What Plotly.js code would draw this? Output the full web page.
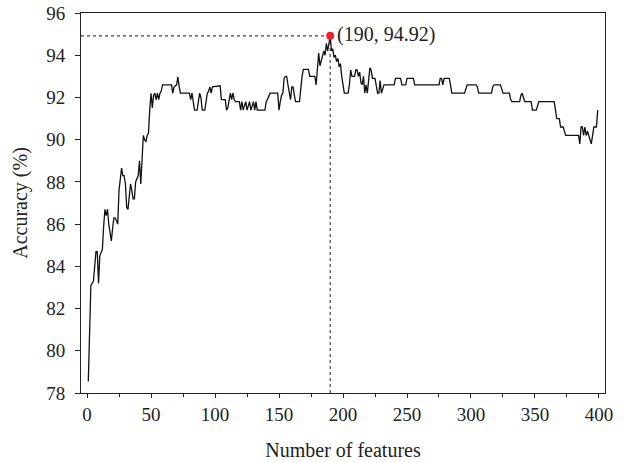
<!DOCTYPE html>
<html>
<head>
<meta charset="utf-8">
<script src="https://cdn.plot.ly/plotly-3.0.1.min.js"></script>
<style>html,body{margin:0;padding:0;background:#fff;}#chart{width:632px;height:462px;}</style>
</head>
<body>
<div id="chart"></div>
<script>
// Number of features (breakpoints)
const featureCounts = [1,2,3,5,6,7,8,9,10,12,13,14,15,16,17,18,19,20,21,22,23,24,25,26,27,28,29,30,31,32,33,34,35,36,37,38,40,41,42,43,44,45,46,47,48,49,50,51,52,53,54,55,56,57,58,59,66,67,68,70,71,72,73,80,81,82,83,84,86,87,88,89,90,92,93,94,95,96,97,98,104,105,108,109,110,111,112,113,114,115,116,119,120,121,122,124,125,127,128,130,131,132,133,139,140,141,143,149,150,151,152,153,154,155,156,157,158,159,160,161,162,163,166,167,168,169,173,174,178,179,180,181,182,183,184,185,186,187,188,189,190,191,192,193,194,195,196,197,198,199,200,201,204,205,206,207,209,210,211,212,213,214,215,216,217,218,219,220,221,222,223,225,226,227,228,229,230,231,232,240,241,245,246,249,250,255,256,275,276,277,278,279,283,284,285,295,296,297,304,305,306,316,317,318,323,324,325,330,331,332,338,339,340,341,342,347,348,351,352,353,365,366,367,369,370,372,373,374,384,385,386,387,388,389,390,391,392,393,394,395,396,398,399];
// Accuracy (%)
const accuracy = [78.55,81.6,83.1,83.3,84.1,84.7,84.7,83.2,84.5,84.8,85.9,86.7,86.4,86.7,86.0,85.5,85.2,85.8,86.3,86.3,86.1,86.0,87.6,88.3,88.65,88.3,88.3,87.9,86.8,86.7,87.4,87.9,87.6,87.2,87.2,88.0,88.3,89.0,87.9,89.5,90.2,90.0,89.9,90.2,90.3,91.4,92.2,91.5,92.1,92.2,91.9,92.2,91.9,92.2,92.3,92.6,92.6,92.2,92.5,92.6,92.97,92.5,92.2,92.2,91.9,92.2,91.7,91.4,91.4,91.9,92.2,92.0,91.4,91.4,91.9,92.2,92.3,92.5,92.2,92.5,92.55,91.9,91.9,91.4,91.5,91.8,92.2,91.9,92.2,91.9,91.8,91.8,91.4,91.8,91.4,91.8,91.4,91.8,91.4,91.8,91.4,91.8,91.4,91.4,91.8,91.9,92.2,92.2,91.4,91.8,92.1,92.2,92.9,93.0,93.0,92.6,92.2,91.9,92.5,92.5,92.1,91.8,91.8,92.6,93.0,93.33,93.33,93.0,93.0,92.6,93.4,94.1,93.5,93.7,93.9,94.2,94.0,94.56,94.2,94.5,94.92,94.2,94.3,93.9,94.0,93.7,93.85,93.45,93.6,93.0,92.5,92.2,92.2,92.6,93.3,93.0,93.0,93.3,93.3,93.0,93.2,92.7,92.6,93.0,92.2,92.6,92.2,92.7,93.4,93.3,92.9,92.9,92.6,92.2,92.2,92.8,92.2,92.4,92.6,92.6,92.9,92.9,92.6,92.6,92.9,92.9,92.6,92.6,92.9,92.9,92.6,92.9,92.9,92.6,92.2,92.2,92.4,92.6,92.6,92.5,92.2,92.2,92.5,92.6,92.6,92.4,92.2,92.2,91.9,91.8,91.8,92.1,92.2,92.0,91.8,91.8,91.4,91.4,91.6,91.8,91.8,91.4,91.0,91.0,90.6,90.6,90.4,90.2,90.2,89.8,90.6,90.6,90.2,90.6,90.2,90.4,90.2,90.0,89.8,90.2,90.6,90.6,91.4];
// Best point
const bestX = [190];
const bestY = [94.92];
const bestLabel = ["(190, 94.92)"];
const xTicks = [0,50,100,150,200,250,300,350,400];
const yTicks = [78,80,82,84,86,88,90,92,94,96];
const xRange = [-4.7, 404.7];
const yRange = [78, 96];

const font = "Liberation Serif, Times New Roman, serif";
const traces = [
  {x: [xRange[0], bestX[0]], y: [bestY[0], bestY[0]], mode: "lines",
   line: {color: "#444", width: 1.2, dash: "dot"}, hoverinfo: "skip", showlegend: false},
  {x: [bestX[0], bestX[0]], y: [yRange[0], bestY[0]], mode: "lines",
   line: {color: "#444", width: 1.2, dash: "dot"}, hoverinfo: "skip", showlegend: false},
  {x: featureCounts, y: accuracy, mode: "lines",
   line: {color: "#111", width: 1.3}, showlegend: false},
  {x: bestX, y: bestY, mode: "markers",
   marker: {color: "#e8222a", size: 8}, showlegend: false, cliponaxis: false}
];
const layout = {
  width: 632, height: 462,
  margin: {l: 81, r: 27, t: 13, b: 69},
  paper_bgcolor: "#fff", plot_bgcolor: "#fff",
  font: {family: font, size: 19, color: "#222"},
  showlegend: false,
  xaxis: {
    range: xRange, tickvals: xTicks, ticktext: xTicks.map(String),
    showgrid: false, zeroline: false, showline: true, mirror: true,
    linecolor: "#222", linewidth: 1, ticks: "outside", ticklen: 4, tickcolor: "#222",
    minor: {dtick: 25, tick0: 0, ticks: "outside", ticklen: 3, tickcolor: "#222"},
    ticklabelstandoff: 0,
    tickfont: {family: font, size: 19, color: "#222"},
    title: {text: "Number of features", font: {family: font, size: 20, color: "#222"}, standoff: 19}
  },
  yaxis: {
    range: yRange, tickvals: yTicks, ticktext: yTicks.map(String),
    showgrid: false, zeroline: false, showline: true, mirror: true,
    linecolor: "#222", linewidth: 1, ticks: "outside", ticklen: 5, tickcolor: "#222",
    ticklabelstandoff: 6,
    tickfont: {family: font, size: 19, color: "#222"},
    title: {text: "Accuracy (%)", font: {family: font, size: 20, color: "#222"}, standoff: 13}
  },
  annotations: [{
    x: bestX[0], y: bestY[0], text: bestLabel[0], showarrow: false,
    xanchor: "left", yanchor: "middle", xshift: 5, yshift: 1,
    font: {family: font, size: 20, color: "#222"}
  }]
};
Plotly.newPlot("chart", traces, layout, {displayModeBar: false, staticPlot: true});
</script>
</body>
</html>
